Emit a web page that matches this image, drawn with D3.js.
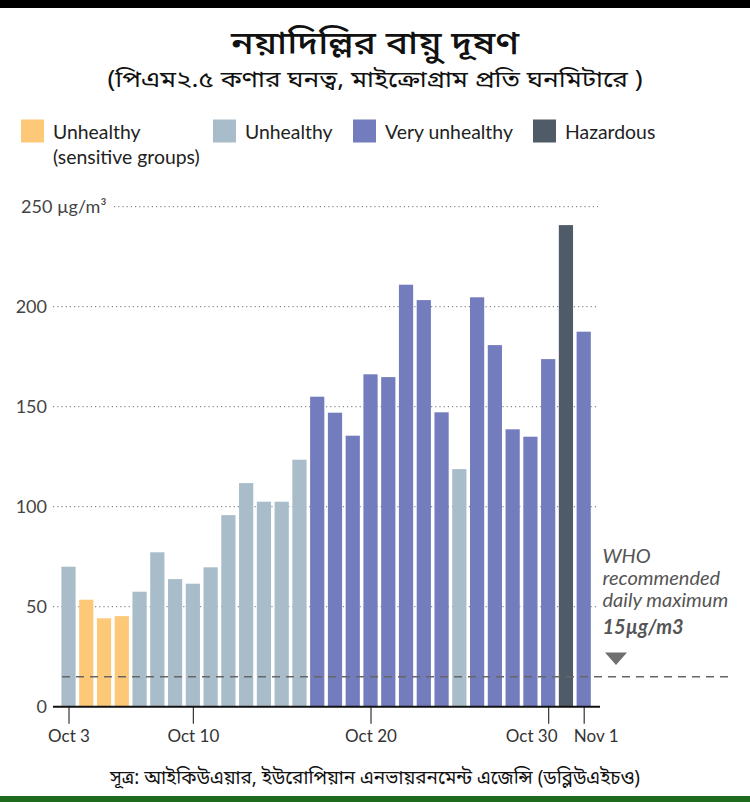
<!DOCTYPE html>
<html>
<head>
<meta charset="utf-8">
<script src="https://cdn.jsdelivr.net/npm/d3@7"></script>
<style>
  html, body { margin: 0; padding: 0; background: #fff; }
  svg { display: block; }
  .bn { font-family: "Noto Sans Bengali", "Noto Serif Bengali", "Lohit Bengali", "Noto Sans", sans-serif; }
  .lat { font-family: Lato, "Noto Sans", sans-serif; }
</style>
</head>
<body>
<svg id="chart" width="750" height="802"></svg>
<script>
// ---------- data ----------
const dates = [
  "2023-10-03","2023-10-04","2023-10-05","2023-10-06","2023-10-07","2023-10-08","2023-10-09",
  "2023-10-10","2023-10-11","2023-10-12","2023-10-13","2023-10-14","2023-10-15","2023-10-16",
  "2023-10-17","2023-10-18","2023-10-19","2023-10-20","2023-10-21","2023-10-22","2023-10-23",
  "2023-10-24","2023-10-25","2023-10-26","2023-10-27","2023-10-28","2023-10-29","2023-10-30",
  "2023-10-31","2023-11-01"
];
const values = [
  70, 53.5, 44.2, 45.3, 57.5, 77.2, 63.8,
  61.5, 69.7, 95.8, 111.8, 102.5, 102.5, 123.5,
  155, 147, 135.5, 166.2, 164.8, 211, 203.3,
  147.2, 118.8, 204.7, 180.8, 138.7, 135, 173.8,
  240.8, 187.5
];
const categories = [
  "u", "s", "s", "s", "u", "u", "u",
  "u", "u", "u", "u", "u", "u", "u",
  "v", "v", "v", "v", "v", "v", "v",
  "v", "u", "v", "v", "v", "v", "v",
  "h", "v"
];
const legendKeys = ["s", "u", "v", "h"];
const legendLabels = [["Unhealthy", "(sensitive groups)"], ["Unhealthy"], ["Very unhealthy"], ["Hazardous"]];
const legendColors = ["#fdc978", "#a8bdc9", "#737dbd", "#4f5b66"];
const yTicks = [0, 50, 100, 150, 200, 250];
const xTickDates = ["2023-10-03", "2023-10-10", "2023-10-20", "2023-10-30", "2023-11-01"];
const xTickLabels = ["Oct 3", "Oct 10", "Oct 20", "Oct 30", "Nov 1"];
const whoLimit = 15;
const title = "নয়াদিল্লির বায়ু দূষণ";
const subtitle = "(পিএম২.৫ কণার ঘনত্ব, মাইক্রোগ্রাম প্রতি ঘনমিটারে )";
const source = "সূত্র: আইকিউএয়ার, ইউরোপিয়ান এনভায়রনমেন্ট এজেন্সি (ডব্লিউএইচও)";
const noteLines = ["WHO", "recommended", "daily maximum"];
const noteValue = "15µg/m3";

// ---------- setup ----------
const parse = d3.timeParse("%Y-%m-%d");
const data = dates.map((d, i) => ({ date: parse(d), value: values[i], cat: categories[i] }));
const color = d3.scaleOrdinal().domain(legendKeys).range(legendColors);

const svg = d3.select("#chart");
svg.append("rect").attr("width", 750).attr("height", 802).attr("fill", "#fff");

// top black bar and bottom green bar
svg.append("rect").attr("x", 0).attr("y", 0).attr("width", 750).attr("height", 8).attr("fill", "#000");
svg.append("rect").attr("x", 0).attr("y", 796).attr("width", 750).attr("height", 6).attr("fill", "#1e6b1e");

// titles
svg.append("text").attr("class", "bn").attr("x", 375).attr("y", 54)
  .attr("text-anchor", "middle").attr("font-size", 31).attr("font-weight", 500).attr("fill", "#111")
  .attr("textLength", 288).attr("lengthAdjust", "spacingAndGlyphs")
  .text(title);
svg.append("text").attr("class", "bn").attr("x", 375).attr("y", 87)
  .attr("text-anchor", "middle").attr("font-size", 23).attr("font-weight", 400).attr("fill", "#111")
  .attr("textLength", 535).attr("lengthAdjust", "spacingAndGlyphs")
  .text(subtitle);

// legend
const legendX = [21, 213, 353, 533];
const lg = svg.append("g");
legendKeys.forEach((k, i) => {
  lg.append("rect").attr("x", legendX[i]).attr("y", 119.5).attr("width", 23).attr("height", 23)
    .attr("fill", legendColors[i]);
  legendLabels[i].forEach((t, j) => {
    lg.append("text").attr("class", "lat").attr("x", legendX[i] + 32).attr("y", 139 + j * 25)
      .attr("font-size", 19.4).attr("fill", "#222").text(t);
  });
});

// scales
const x = d3.scaleTime().domain([data[0].date, data[data.length - 1].date]).range([68.5, 583.7]);
const y = d3.scaleLinear().domain([0, 250]).range([706.7, 206.7]);
const step = x(data[1].date) - x(data[0].date);
const barW = step * 0.8;

// gridlines
const grid = svg.append("g");
yTicks.filter(t => t > 0).forEach(t => {
  grid.append("line")
    .attr("x1", t === 250 ? 114 : 53).attr("x2", 598)
    .attr("y1", y(t)).attr("y2", y(t))
    .attr("stroke", "#8a8a8a").attr("stroke-width", 1.2).attr("stroke-dasharray", "1.2,3");
});

// y labels
const yl = svg.append("g").attr("class", "lat");
yTicks.forEach(t => {
  const tx = yl.append("text").attr("x", 47).attr("y", y(t) + 6.3)
    .attr("font-size", 18).attr("fill", "#444");
  if (t === 250) {
    tx.attr("x", 21).attr("text-anchor", "start").text(t + " µg/m³");
  } else {
    tx.attr("text-anchor", "end").text(t);
  }
});

// bars
svg.append("g").selectAll("rect").data(data).join("rect")
  .attr("x", d => x(d.date) - barW / 2)
  .attr("width", barW)
  .attr("y", d => y(d.value))
  .attr("height", d => y(0) - y(d.value))
  .attr("fill", d => color(d.cat));

// WHO dashed line
svg.append("line").attr("x1", 62).attr("x2", 730)
  .attr("y1", y(whoLimit)).attr("y2", y(whoLimit))
  .attr("stroke", "#666").attr("stroke-width", 1.5).attr("stroke-dasharray", "8,6");

// x axis
const labelShift = [0, 0, 0, -17, 12];
const xAxis = d3.axisBottom(x)
  .tickValues(xTickDates.map(parse))
  .tickFormat((d, i) => xTickLabels[i])
  .tickSize(17).tickPadding(6);
const gx = svg.append("g").attr("transform", `translate(0,${y(0)})`).call(xAxis);
gx.select(".domain").remove();
gx.selectAll(".tick line").attr("stroke", "#333").attr("stroke-width", 1.2);
gx.selectAll(".tick text").attr("class", "lat").attr("font-size", 17).attr("fill", "#333")
  .attr("font-family", "Lato, 'Noto Sans', sans-serif")
  .attr("dx", (d, i) => labelShift[i]);
svg.append("line").attr("x1", 53).attr("x2", 600).attr("y1", y(0)).attr("y2", y(0))
  .attr("stroke", "#111").attr("stroke-width", 2);

// annotation
const ann = svg.append("g").attr("class", "lat").attr("font-style", "italic").attr("fill", "#555")
  .attr("font-size", 20);
const noteY = [562.7, 585, 607];
noteLines.forEach((t, i) => {
  ann.append("text").attr("x", 602.5).attr("y", noteY[i]).text(t);
});
ann.append("text").attr("x", 602.5).attr("y", 634).attr("font-weight", 700).text(noteValue);
svg.append("path").attr("d", "M605,652.5 L627,652.5 L616,665 Z").attr("fill", "#6f6f6f");

// source
svg.append("text").attr("class", "bn").attr("x", 375).attr("y", 784)
  .attr("text-anchor", "middle").attr("font-size", 19).attr("font-weight", 400).attr("fill", "#111")
  .attr("textLength", 530).attr("lengthAdjust", "spacingAndGlyphs")
  .text(source);
</script>
</body>
</html>
